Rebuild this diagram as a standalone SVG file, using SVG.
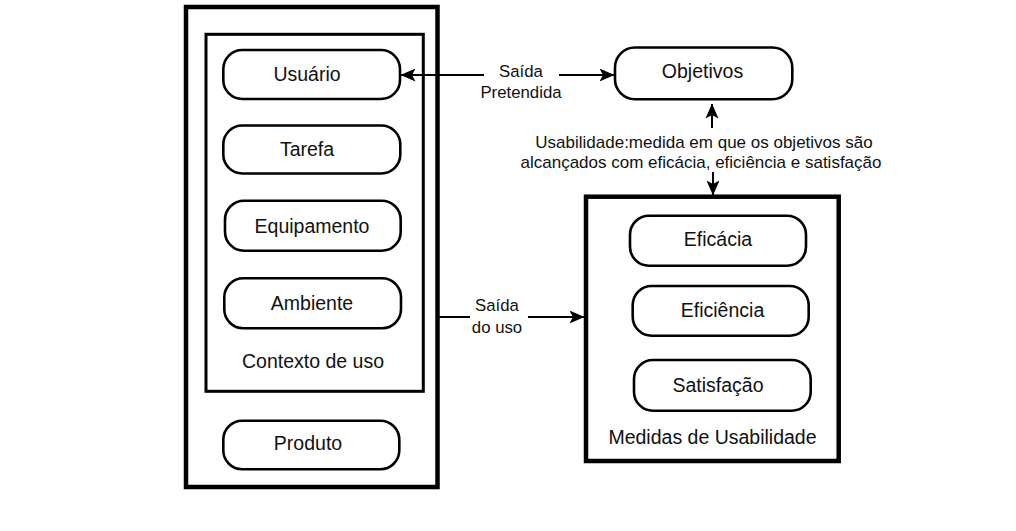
<svg xmlns="http://www.w3.org/2000/svg" width="1016" height="531" viewBox="0 0 1016 531">
<defs>
<marker id="ah" markerUnits="userSpaceOnUse" markerWidth="15" markerHeight="13" viewBox="0 0 15 13" refX="14.5" refY="6.5" orient="auto-start-reverse">
<path d="M0,0 L15,6.5 L0,13 L3.5,6.5 z" fill="#000"/>
</marker>
<style>
.box{fill:none;stroke:#000;stroke-width:4.5}
.inbox{fill:none;stroke:#000;stroke-width:3}
.pill{fill:#fff;stroke:#000;stroke-width:2.6}
.t{font-family:"Liberation Sans",Arial,sans-serif;font-size:19.5px;fill:#111;text-anchor:middle}
.s{font-family:"Liberation Sans",Arial,sans-serif;font-size:16.8px;fill:#111;text-anchor:middle}
.c{fill:none;stroke:#000;stroke-width:2}
</style>
</defs>
<rect width="1016" height="531" fill="#fff"/>

<g id="contexto-produto">
<rect class="box" x="186" y="7" width="251.5" height="480"/>
</g>
<g id="contexto-de-uso">
<rect class="inbox" x="206" y="34.3" width="217.3" height="357"/>
<text class="t" x="313" y="368">Contexto de uso</text>
</g>
<g id="usuario">
<rect class="pill" x="223.3" y="50" width="176.7" height="49" rx="19"/>
<text class="t" x="307" y="81">Usuário</text>
</g>
<g id="tarefa">
<rect class="pill" x="223.3" y="125.5" width="177" height="48" rx="19"/>
<text class="t" x="307" y="156">Tarefa</text>
</g>
<g id="equipamento">
<rect class="pill" x="225" y="200.7" width="175.7" height="50" rx="19"/>
<text class="t" x="312" y="232.5">Equipamento</text>
</g>
<g id="ambiente">
<rect class="pill" x="224.3" y="278.3" width="176.7" height="50" rx="19"/>
<text class="t" x="312" y="309.5">Ambiente</text>
</g>
<g id="produto">
<rect class="pill" x="223.3" y="420.7" width="176" height="48.6" rx="19"/>
<text class="t" x="308" y="449.5">Produto</text>
</g>

<g id="objetivos">
<rect class="pill" x="615" y="47.5" width="177.3" height="51.8" rx="20"/>
<text class="t" x="702.5" y="77.5">Objetivos</text>
</g>

<g id="medidas-de-usabilidade">
<rect class="box" x="586" y="196.7" width="252.7" height="264.3"/>
<text class="t" x="712.5" y="444">Medidas de Usabilidade</text>
</g>
<g id="eficacia">
<rect class="pill" x="630" y="215.7" width="176" height="50" rx="19"/>
<text class="t" x="718" y="246">Eficácia</text>
</g>
<g id="eficiencia">
<rect class="pill" x="632.7" y="286" width="176" height="49.7" rx="19"/>
<text class="t" x="722.5" y="317">Eficiência</text>
</g>
<g id="satisfacao">
<rect class="pill" x="634" y="360" width="176.7" height="50.7" rx="19"/>
<text class="t" x="718" y="391.5">Satisfação</text>
</g>

<g id="connectors">
<line class="c" x1="484" y1="75" x2="401" y2="75" marker-end="url(#ah)"/>
<line class="c" x1="559" y1="75" x2="614" y2="75" marker-end="url(#ah)"/>
<text class="s" x="521" y="77">Saída</text>
<text class="s" x="521" y="98">Pretendida</text>

<line class="c" x1="712" y1="128" x2="712" y2="104" marker-end="url(#ah)"/>
<line class="c" x1="713" y1="172" x2="713" y2="195" marker-end="url(#ah)"/>
<text class="s" x="704" y="148.3" style="font-size:17px">Usabilidade:medida em que os objetivos são</text>
<text class="s" x="701" y="168.3" style="font-size:17px">alcançados com eficácia, eficiência e satisfação</text>

<line class="c" x1="439" y1="317" x2="470" y2="317"/>
<line class="c" x1="528" y1="317" x2="584" y2="317" marker-end="url(#ah)"/>
<text class="s" x="497" y="311">Saída</text>
<text class="s" x="497" y="333">do uso</text>
</g>
</svg>
